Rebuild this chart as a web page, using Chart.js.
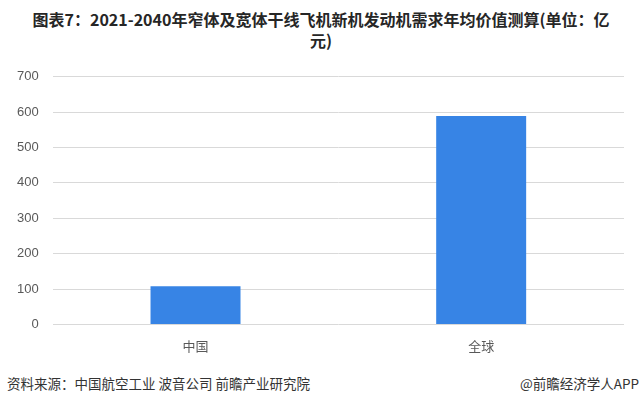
<!DOCTYPE html>
<html>
<head>
<meta charset="utf-8">
<script src="https://cdn.jsdelivr.net/npm/chart.js@4/dist/chart.umd.min.js"></script>
<style>
  body { margin: 0; background: #fff; width: 642px; height: 404px; position: relative; overflow: hidden; font-family: "Noto Sans CJK SC", sans-serif; }
  #title { position: absolute; left: 0; top: 9px; width: 642px; text-align: center; font-size: 16px; font-weight: bold; line-height: 21px; color: #262626; }
  #box { position: absolute; left: 0; top: 55px; width: 642px; height: 307px; }
  #source { position: absolute; left: 7px; top: 373px; font-size: 13.5px; color: #333; }
  #brand { position: absolute; right: 3px; top: 373px; font-size: 13.5px; color: #333; }
</style>
</head>
<body>
<div id="title">图表7：2021-2040年窄体及宽体干线飞机新机发动机需求年均价值测算(单位：亿<br>元)</div>
<div id="box"><canvas id="chart"></canvas></div>
<div id="source">资料来源：中国航空工业 波音公司 前瞻产业研究院</div>
<div id="brand">@前瞻经济学人APP</div>
<script>
const categories = ['中国', '全球'];
const values = [108, 589];

new Chart('chart', {
    type: 'bar',
    data: {
        labels: categories,
        datasets: [
            {
                label: '年均价值',
                data: values,
                backgroundColor: 'rgb(55, 132, 229)',
                categoryPercentage: 1,
                barPercentage: 0.315,
            }
        ],
    },
    options: {
        responsive: true,
        maintainAspectRatio: false,
        animation: false,
        layout: {
            padding: { left: 3, right: 18, top: 6, bottom: 2 }
        },
        plugins: {
            legend: { display: false },
            tooltip: { enabled: false },
        },
        scales: {
            x: {
                grid: { display: false },
                border: { display: false },
                ticks: {
                    color: '#595959',
                    padding: 6,
                    font: { size: 13, family: '"Noto Sans CJK SC", sans-serif' },
                },
            },
            y: {
                min: 0,
                max: 700,
                border: { display: false },
                grid: { color: '#d9d9d9', drawTicks: false },
                ticks: {
                    stepSize: 100,
                    color: '#595959',
                    padding: 14,
                    font: { size: 13, family: '"Liberation Sans", Arial, sans-serif' },
                },
            }
        }
    }
});
</script>
</body>
</html>
